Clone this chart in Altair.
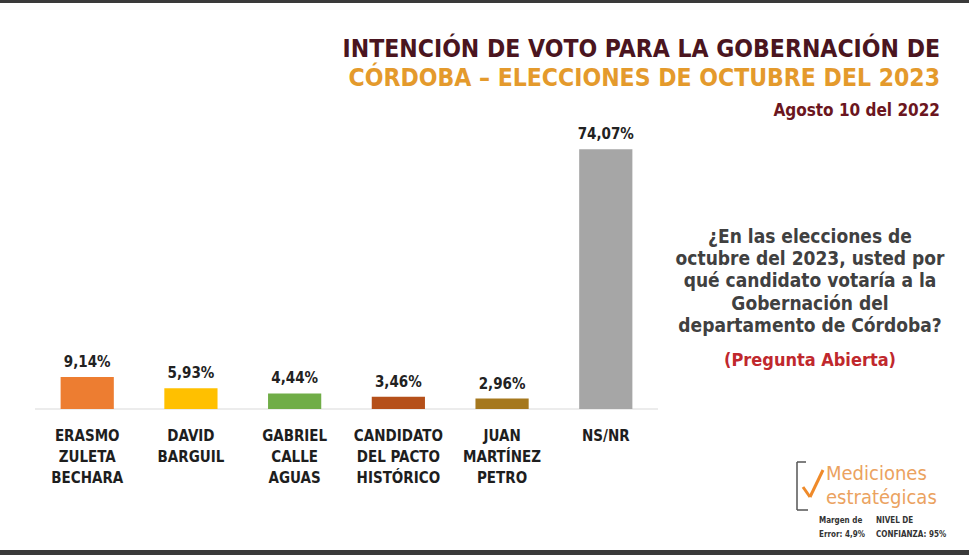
import altair as alt
import pandas as pd

# Poll results (percent of respondents)
candidates = [
    "ERASMO\nZULETA\nBECHARA",
    "DAVID\nBARGUIL",
    "GABRIEL\nCALLE\nAGUAS",
    "CANDIDATO\nDEL PACTO\nHISTÓRICO",
    "JUAN\nMARTÍNEZ\nPETRO",
    "NS/NR",
]
values = [9.14, 5.93, 4.44, 3.46, 2.96, 74.07]
value_labels = ["9,14%", "5,93%", "4,44%", "3,46%", "2,96%", "74,07%"]
bar_colors = ["#ed7d31", "#ffc000", "#70ad47", "#b5501a", "#a5781e", "#a6a6a6"]

title_lines = ["INTENCIÓN DE VOTO PARA LA GOBERNACIÓN DE",
               "CÓRDOBA – ELECCIONES DE OCTUBRE DEL 2023"]
date_text = "Agosto 10 del 2022"
question_lines = ["¿En las elecciones de", "octubre del 2023, usted por",
                  "qué candidato votaría a la", "Gobernación del",
                  "departamento de Córdoba?"]
note_text = "(Pregunta Abierta)"
brand_lines = ["Mediciones", "estratégicas"]
margin_lines = ["Margen de", "Error: 4,9%"]
conf_lines = ["NIVEL DE", "CONFIANZA: 95%"]

W, H = 969, 555
LEFT, PLOT_W, PLOT_H = 35, 623, 409
COND = "Liberation Sans Narrow, DejaVu Sans Condensed, Roboto, sans-serif"


def px(x):
    # page x -> plot x
    return x - LEFT


df = pd.DataFrame({"cand": candidates, "val": values, "lab": value_labels, "col": bar_colors})
base = alt.Chart(df)

xenc = alt.X("cand:N", sort=candidates, axis=None,
             scale=alt.Scale(paddingInner=0.487, paddingOuter=0.247))
yscale = alt.Scale(domain=[0, 116.66], nice=False, zero=True)

bars = base.mark_bar(cornerRadius=0).encode(
    x=xenc,
    y=alt.Y("val:Q", axis=None, scale=yscale),
    color=alt.Color("col:N", scale=None),
)

vlabels = base.mark_text(baseline="bottom", dy=-7, fontSize=15, fontWeight="bold",
                         font=COND, color="#222222").encode(
    x=xenc, y=alt.Y("val:Q", scale=yscale), text="lab:N")

clabels = base.mark_text(baseline="top", lineBreak="\n", lineHeight=21, fontSize=15,
                         fontWeight="bold", font=COND, color="#1e1e1e").encode(
    x=xenc, y=alt.value(429), text="cand:N")

one = pd.DataFrame({"k": [0]})


def rule(x1, y1, x2, y2, color, width):
    return alt.Chart(one).mark_rule(color=color, strokeWidth=width).encode(
        x=alt.value(px(x1)), x2=alt.value(px(x2)), y=alt.value(y1), y2=alt.value(y2))


def text(t, x, y, size, color, align="center", weight="bold", font=COND, baseline="middle"):
    return alt.Chart(one).mark_text(text=t, align=align, baseline=baseline, fontSize=size,
                                    fontWeight=weight, font=font, color=color).encode(
        x=alt.value(px(x)), y=alt.value(y))


def band(y1, y2):
    return alt.Chart(one).mark_rect(color="#3a3a3a").encode(
        x=alt.value(px(0)), x2=alt.value(px(W)), y=alt.value(y1), y2=alt.value(y2))


layers = [
    band(0, 3), band(550, H),
    rule(35, 409, 658, 409, "#d9d9d9", 1),
    bars, vlabels, clabels,
    text(title_lines[0], 940, 50, 24.5, "#4a1520", align="right"),
    text(title_lines[1], 940, 79, 24.5, "#e49a2c", align="right"),
    text(date_text, 940, 111, 17, "#6b1620", align="right"),
]
for i, line in enumerate(question_lines):
    layers.append(text(line, 810, 237 + i * 22.2, 19, "#404040"))
layers.append(text(note_text, 810, 361, 18, "#c0282d"))

# brand mark: bracket and tick
layers += [
    rule(797, 462, 797, 510, "#555555", 1.5),
    rule(797, 462, 806, 462, "#555555", 1.5),
    rule(797, 510, 808, 510, "#555555", 1.5),
    rule(803, 487, 810, 497, "#ef8a2a", 3),
    rule(810, 497, 823, 470, "#ef8a2a", 3),
]
layers.append(text(brand_lines[0], 826, 474, 20, "#eba260", align="left", weight="normal"))
layers.append(text(brand_lines[1], 826, 498, 20, "#eba260", align="left", weight="normal"))
for i, line in enumerate(margin_lines):
    layers.append(text(line, 819, 521 + i * 14, 8, "#333333", align="left"))
for i, line in enumerate(conf_lines):
    layers.append(text(line, 876, 521 + i * 14, 8, "#333333", align="left"))

chart = alt.layer(*layers).properties(
    width=PLOT_W, height=PLOT_H,
    autosize=alt.AutoSizeParams(type="none"),
    padding={"left": LEFT, "top": 0, "right": W - LEFT - PLOT_W, "bottom": H - PLOT_H},
    background="#ffffff",
).configure_view(stroke=None)

chart.save("out.html", embed_options={"renderer": "svg", "actions": False})
